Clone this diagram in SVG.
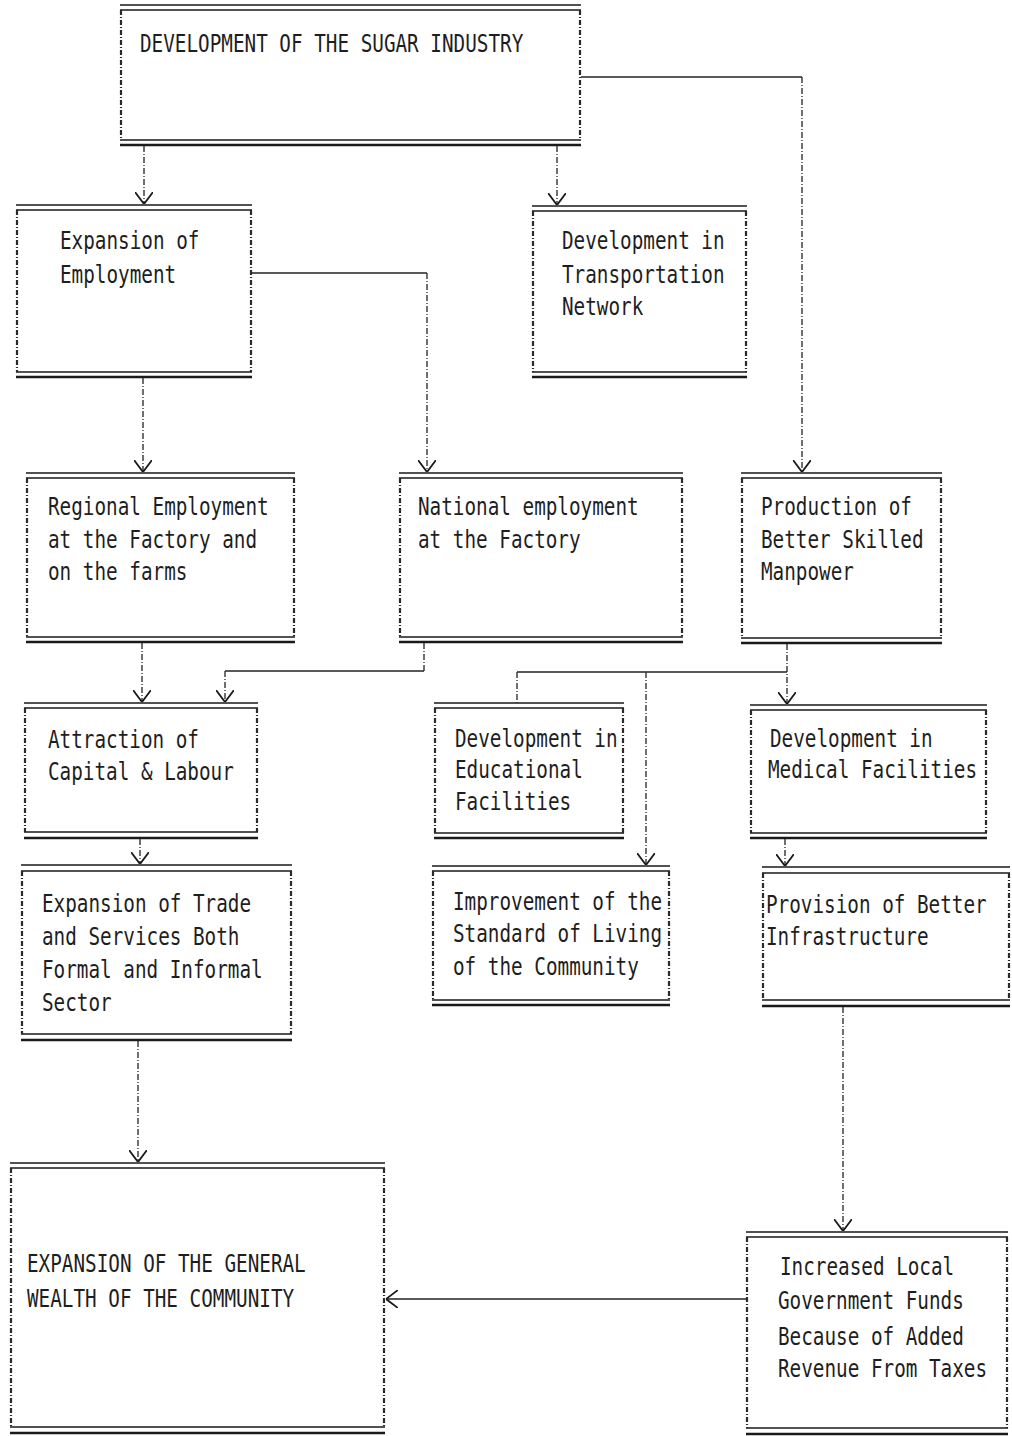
<svg xmlns="http://www.w3.org/2000/svg" width="1012" height="1436" viewBox="0 0 1012 1436">
<style>
.bg{fill:#fff}
.h{stroke:#1a1a1a;stroke-width:1.7;fill:none}
.hb{stroke:#1a1a1a;stroke-width:2.4;fill:none}
.s{stroke:#2a2a2a;stroke-width:2.2;fill:none;stroke-dasharray:5 2 1 2}
.t{font-family:"DejaVu Sans Mono","Liberation Mono",monospace;font-size:19.3px;fill:#1e1e1e}
.cv{stroke:#333;stroke-width:1.4;fill:none;stroke-dasharray:6 2 1 2}
.ch{stroke:#222;stroke-width:1.6;fill:none}
</style>
<defs>
<marker id="ah" viewBox="0 0 12 18" refX="12" refY="9" markerWidth="12" markerHeight="18" markerUnits="userSpaceOnUse" orient="auto">
<path d="M0,0 L12,9 L0,18" fill="none" stroke="#1a1a1a" stroke-width="1.8"/>
</marker>
</defs>
<rect class="bg" x="0" y="0" width="1012" height="1436"/>

<g id="sugar">
<path class="h" d="M120 5H581M120 10H581M120 140H581"/><path class="hb" d="M120 145H581"/>
<path class="s" d="M121 10V140M580 10V140"/>
<text class="t" transform="translate(140 52) scale(1 1.28)">DEVELOPMENT OF THE SUGAR INDUSTRY</text>
</g>

<g id="employment">
<path class="h" d="M16 205H252M16 210H252M16 372H252"/><path class="hb" d="M16 377H252"/>
<path class="s" d="M17 210V372M251 210V372"/>
<text class="t" transform="translate(60 249) scale(1 1.28)">Expansion of</text>
<text class="t" transform="translate(60 283) scale(1 1.28)">Employment</text>
</g>

<g id="transport">
<path class="h" d="M532 206H747M532 211H747M532 372H747"/><path class="hb" d="M532 377H747"/>
<path class="s" d="M533 211V372M746 211V372"/>
<text class="t" transform="translate(562 249) scale(1 1.28)">Development in</text>
<text class="t" transform="translate(562 283) scale(1 1.28)">Transportation</text>
<text class="t" transform="translate(562 315) scale(1 1.28)">Network</text>
</g>

<g id="regional">
<path class="h" d="M26 473H295M26 478H295M26 637H295"/><path class="hb" d="M26 642H295"/>
<path class="s" d="M27 478V637M294 478V637"/>
<text class="t" transform="translate(48 515) scale(1 1.28)">Regional Employment</text>
<text class="t" transform="translate(48 548) scale(1 1.28)">at the Factory and</text>
<text class="t" transform="translate(48 580) scale(1 1.28)">on the farms</text>
</g>

<g id="national">
<path class="h" d="M399 473H683M399 478H683M399 637H683"/><path class="hb" d="M399 642H683"/>
<path class="s" d="M400 478V637M682 478V637"/>
<text class="t" transform="translate(418 515) scale(1 1.28)">National employment</text>
<text class="t" transform="translate(418 548) scale(1 1.28)">at the Factory</text>
</g>

<g id="production">
<path class="h" d="M741 473H942M741 478H942M741 638H942"/><path class="hb" d="M741 643H942"/>
<path class="s" d="M742 478V638M941 478V638"/>
<text class="t" transform="translate(761 515) scale(1 1.28)">Production of</text>
<text class="t" transform="translate(761 548) scale(1 1.28)">Better Skilled</text>
<text class="t" transform="translate(761 580) scale(1 1.28)">Manpower</text>
</g>

<g id="attraction">
<path class="h" d="M24 703H258M24 708H258M24 832H258"/><path class="hb" d="M24 838H258"/>
<path class="s" d="M25 708V832M257 708V832"/>
<text class="t" transform="translate(48 748) scale(1 1.28)">Attraction of</text>
<text class="t" transform="translate(48 780) scale(1 1.28)">Capital &amp; Labour</text>
</g>

<g id="educational">
<path class="h" d="M434 703H624M434 708H624M434 833H624"/><path class="hb" d="M434 838H624"/>
<path class="s" d="M435 708V833M623 708V833"/>
<text class="t" transform="translate(455 747) scale(1 1.28)">Development in</text>
<text class="t" transform="translate(455 778) scale(1 1.28)">Educational</text>
<text class="t" transform="translate(455 810) scale(1 1.28)">Facilities</text>
</g>

<g id="medical">
<path class="h" d="M750 705H987M750 710H987M750 833H987"/><path class="hb" d="M750 838H987"/>
<path class="s" d="M751 710V833M986 710V833"/>
<text class="t" transform="translate(770 747) scale(1 1.28)">Development in</text>
<text class="t" transform="translate(768 778) scale(1 1.28)">Medical Facilities</text>
</g>

<g id="trade">
<path class="h" d="M21 865H292M21 871H292M21 1034H292"/><path class="hb" d="M21 1040H292"/>
<path class="s" d="M22 871V1034M291 871V1034"/>
<text class="t" transform="translate(42 912) scale(1 1.28)">Expansion of Trade</text>
<text class="t" transform="translate(42 945) scale(1 1.28)">and Services Both</text>
<text class="t" transform="translate(42 978) scale(1 1.28)">Formal and Informal</text>
<text class="t" transform="translate(42 1011) scale(1 1.28)">Sector</text>
</g>

<g id="improvement">
<path class="h" d="M432 866H670M432 871H670M432 1000H670"/><path class="hb" d="M432 1005H670"/>
<path class="s" d="M433 871V1000M669 871V1000"/>
<text class="t" transform="translate(453 910) scale(1 1.28)">Improvement of the</text>
<text class="t" transform="translate(453 942) scale(1 1.28)">Standard of Living</text>
<text class="t" transform="translate(453 975) scale(1 1.28)">of the Community</text>
</g>

<g id="provision">
<path class="h" d="M762 867H1010M762 873H1010M762 1000H1010"/><path class="hb" d="M762 1006H1010"/>
<path class="s" d="M763 873V1000M1009 873V1000"/>
<text class="t" transform="translate(766 913) scale(1 1.28)">Provision of Better</text>
<text class="t" transform="translate(766 945) scale(1 1.28)">Infrastructure</text>
</g>

<g id="wealth">
<path class="h" d="M10 1163H385M10 1168H385M10 1427H385"/><path class="hb" d="M10 1433H385"/>
<path class="s" d="M11 1168V1427M384 1168V1427"/>
<text class="t" transform="translate(27 1272) scale(1 1.28)">EXPANSION OF THE GENERAL</text>
<text class="t" transform="translate(27 1307) scale(1 1.28)">WEALTH OF THE COMMUNITY</text>
</g>

<g id="increased">
<path class="h" d="M746 1232H1008M746 1237H1008M746 1428H1008"/><path class="hb" d="M746 1434H1008"/>
<path class="s" d="M747 1237V1428M1007 1237V1428"/>
<text class="t" transform="translate(780 1275) scale(1 1.28)">Increased Local</text>
<text class="t" transform="translate(778 1309) scale(1 1.28)">Government Funds</text>
<text class="t" transform="translate(778 1345) scale(1 1.28)">Because of Added</text>
<text class="t" transform="translate(778 1377) scale(1 1.28)">Revenue From Taxes</text>
</g>

<g id="connectors">
<path class="cv" d="M144 146V204" marker-end="url(#ah)"/>
<path class="cv" d="M557 146V205" marker-end="url(#ah)"/>
<path class="ch" d="M581 77H802"/>
<path class="cv" d="M802 77V472" marker-end="url(#ah)"/>
<path class="cv" d="M143 378V472" marker-end="url(#ah)"/>
<path class="ch" d="M252 273H427"/>
<path class="cv" d="M427 273V472" marker-end="url(#ah)"/>
<path class="cv" d="M142 643V702" marker-end="url(#ah)"/>
<path class="cv" d="M424 643V671"/>
<path class="ch" d="M424 671H225"/>
<path class="cv" d="M225 671V702" marker-end="url(#ah)"/>
<path class="cv" d="M787 644V704" marker-end="url(#ah)"/>
<path class="ch" d="M787 672H517"/>
<path class="cv" d="M517 672V703"/>
<path class="cv" d="M646 672V865" marker-end="url(#ah)"/>
<path class="cv" d="M140 839V864" marker-end="url(#ah)"/>
<path class="cv" d="M785 839V866" marker-end="url(#ah)"/>
<path class="cv" d="M138 1041V1162" marker-end="url(#ah)"/>
<path class="cv" d="M843 1007V1231" marker-end="url(#ah)"/>
<path class="ch" d="M746 1299H386" marker-end="url(#ah)"/>
</g>
</svg>
